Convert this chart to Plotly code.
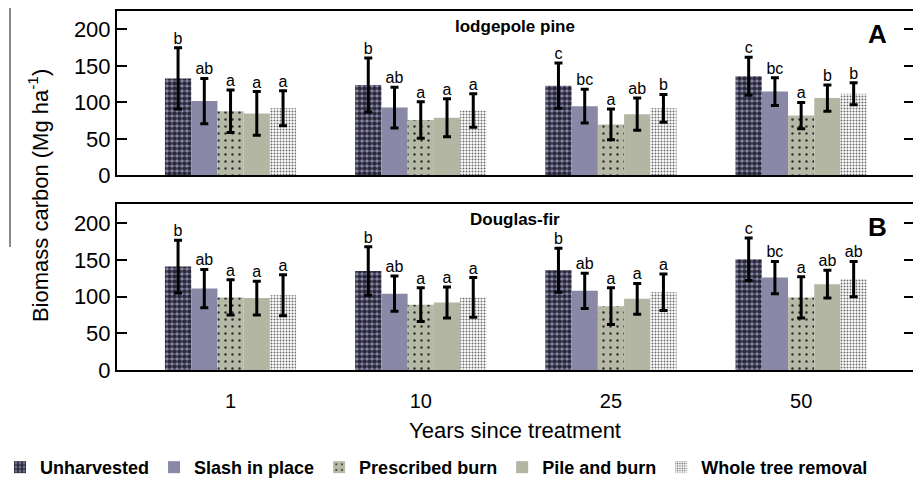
import plotly.graph_objects as go

# ---- data -------------------------------------------------------------
YEARS = ["1", "10", "25", "50"]
TREATMENTS = ["Unharvested", "Slash in place", "Prescribed burn",
              "Pile and burn", "Whole tree removal"]

# Lodgepole pine: mean biomass carbon (Mg/ha), error, significance letters
LP_UNHARVESTED = [133, 124, 123, 136]
LP_UNHARVESTED_ERR = [42, 37, 31, 26]
LP_UNHARVESTED_SIG = ["b", "b", "c", "c"]

LP_SLASH = [102, 93, 95, 115]
LP_SLASH_ERR = [31, 28, 23, 19]
LP_SLASH_SIG = ["ab", "ab", "bc", "bc"]

LP_PRESCRIBED = [88, 76, 70, 82]
LP_PRESCRIBED_ERR = [29, 25, 21, 18]
LP_PRESCRIBED_SIG = ["a", "a", "a", "a"]

LP_PILE = [85, 79, 84, 106]
LP_PILE_ERR = [30, 26, 22, 18]
LP_PILE_SIG = ["a", "a", "ab", "b"]

LP_WHOLE = [92, 89, 92, 112]
LP_WHOLE_ERR = [24, 23, 19, 15]
LP_WHOLE_SIG = ["a", "a", "b", "b"]

# Douglas-fir
DF_UNHARVESTED = [141, 135, 136, 151]
DF_UNHARVESTED_ERR = [36, 33, 30, 29]
DF_UNHARVESTED_SIG = ["b", "b", "b", "c"]

DF_SLASH = [111, 104, 108, 126]
DF_SLASH_ERR = [26, 24, 24, 22]
DF_SLASH_SIG = ["ab", "ab", "ab", "bc"]

DF_PRESCRIBED = [99, 89, 87, 99]
DF_PRESCRIBED_ERR = [24, 23, 25, 28]
DF_PRESCRIBED_SIG = ["a", "a", "a", "a"]

DF_PILE = [98, 92, 97, 117]
DF_PILE_ERR = [23, 21, 21, 19]
DF_PILE_SIG = ["a", "a", "a", "ab"]

DF_WHOLE = [102, 99, 106, 124]
DF_WHOLE_ERR = [28, 27, 25, 24]
DF_WHOLE_SIG = ["a", "a", "a", "ab"]

Y_TICKS = [0, 50, 100, 150, 200]

# ---- styling ----------------------------------------------------------
FONT = "Liberation Sans, Arial, sans-serif"

STYLES = {
    "Unharvested": dict(color="#8e8caa",
                        pattern=dict(shape=".", fgcolor="#2a2a3c", bgcolor="#8e8caa",
                                     size=5, solidity=0.7)),
    "Slash in place": dict(color="#8a88a7"),
    "Prescribed burn": dict(color="#b7b9a7",
                            pattern=dict(shape=".", fgcolor="#2f2f2f", bgcolor="#b7b9a7",
                                         size=7, solidity=0.1)),
    "Pile and burn": dict(color="#b4b6a4"),
    "Whole tree removal": dict(color="#ffffff",
                               pattern=dict(shape=".", fgcolor="#6a6a6a", bgcolor="#ffffff",
                                            size=3, solidity=0.33)),
}

# each panel: bar axes, plus the right-hand overlay axis carrying the letters
panels = [
    dict(x="x", y="y", y_right="y3",
         series=[(LP_UNHARVESTED, LP_UNHARVESTED_ERR, LP_UNHARVESTED_SIG),
                 (LP_SLASH, LP_SLASH_ERR, LP_SLASH_SIG),
                 (LP_PRESCRIBED, LP_PRESCRIBED_ERR, LP_PRESCRIBED_SIG),
                 (LP_PILE, LP_PILE_ERR, LP_PILE_SIG),
                 (LP_WHOLE, LP_WHOLE_ERR, LP_WHOLE_SIG)]),
    dict(x="x2", y="y2", y_right="y4",
         series=[(DF_UNHARVESTED, DF_UNHARVESTED_ERR, DF_UNHARVESTED_SIG),
                 (DF_SLASH, DF_SLASH_ERR, DF_SLASH_SIG),
                 (DF_PRESCRIBED, DF_PRESCRIBED_ERR, DF_PRESCRIBED_SIG),
                 (DF_PILE, DF_PILE_ERR, DF_PILE_SIG),
                 (DF_WHOLE, DF_WHOLE_ERR, DF_WHOLE_SIG)]),
]

BARGAP = 0.31
N = len(TREATMENTS)
BAR_W = (1 - BARGAP) / N
positions = list(range(len(YEARS)))

fig = go.Figure()

for p_i, panel in enumerate(panels):
    letter_x, letter_y, letter_txt = [], [], []
    for t_i, (name, (vals, errs, sig)) in enumerate(zip(TREATMENTS, panel["series"])):
        st = STYLES[name]
        marker = dict(color=st["color"], line=dict(width=0))
        if "pattern" in st:
            marker["pattern"] = dict(fillmode="replace", **st["pattern"])
        fig.add_trace(go.Bar(
            x=positions, y=vals, name=name, marker=marker,
            xaxis=panel["x"], yaxis=panel["y"],
            legendgroup=name, showlegend=(p_i == 0),
            error_y=dict(type="data", array=errs, visible=True,
                         color="black", thickness=3, width=4),
        ))
        offset = (t_i - (N - 1) / 2) * BAR_W
        for k, (v, e, s) in enumerate(zip(vals, errs, sig)):
            letter_x.append(positions[k] + offset)
            letter_y.append(v + e)
            letter_txt.append(s)
    # significance letters sit just above each error bar
    fig.add_trace(go.Scatter(
        x=letter_x, y=letter_y, text=letter_txt, mode="text",
        textposition="top center", cliponaxis=False,
        textfont=dict(family=FONT, size=16, color="black"),
        xaxis=panel["x"], yaxis=panel["y_right"], showlegend=False, hoverinfo="skip"))


def label(text, x, y, size, angle=0):
    return dict(x=x, y=y, xref="paper", yref="paper", text=text, textangle=angle,
                showarrow=False, xanchor="center", yanchor="middle",
                font=dict(family=FONT, size=size, color="black"))


# panel titles, panel tags, shared y title
annotations = [
    label("<b>lodgepole pine</b>", 0.5, 0.958, 17),
    label("<b>Douglas-fir</b>", 0.5, 0.418, 17),
    label("<b>A</b>", 0.956, 0.936, 26),
    label("<b>B</b>", 0.956, 0.399, 26),
    label("Biomass carbon (Mg ha<sup>-1</sup>)", -0.099, 0.485, 22, angle=-90),
]

XRANGE = [-0.597, 3.588]
RANGE_A = [0, 225.3]
RANGE_B = [0, 226.3]

axis_common = dict(showline=True, linecolor="black", linewidth=2, showgrid=False,
                   zeroline=False)

yaxis_common = dict(axis_common, tickvals=Y_TICKS, ticks="inside",
                    ticklen=10, tickwidth=2, tickcolor="black",
                    tickfont=dict(family=FONT, size=22, color="black"))

right_common = dict(showline=False, showgrid=False, zeroline=False, side="right",
                    tickvals=Y_TICKS, ticks="inside", ticklen=9, tickwidth=2,
                    tickcolor="black", showticklabels=False)

fig.update_layout(
    width=913, height=487,
    margin=dict(l=117, r=0, t=11, b=117),
    paper_bgcolor="white", plot_bgcolor="white",
    barmode="group", bargap=BARGAP, bargroupgap=0,
    font=dict(family=FONT, color="black"),
    xaxis=dict(axis_common, mirror=True, range=XRANGE, anchor="y",
               showticklabels=False, ticks=""),
    yaxis=dict(yaxis_common, domain=[0.5418, 1], range=RANGE_A, anchor="x"),
    xaxis2=dict(axis_common, mirror=True, range=XRANGE, anchor="y2",
                tickvals=positions, ticktext=YEARS, ticks="",
                ticklabelstandoff=12, automargin=False,
                tickfont=dict(family=FONT, size=20, color="black"),
                title=dict(text="Years since treatment", standoff=12,
                           font=dict(family=FONT, size=22, color="black"))),
    yaxis2=dict(yaxis_common, domain=[0, 0.4624], range=RANGE_B, anchor="x2"),
    yaxis3=dict(right_common, overlaying="y", anchor="x", range=RANGE_A),
    yaxis4=dict(right_common, overlaying="y2", anchor="x2", range=RANGE_B),
    legend=dict(orientation="h", x=-0.147, xanchor="left", y=-0.323, yanchor="bottom",
                font=dict(family=FONT, size=18, color="black", weight="bold"),
                itemwidth=30, tracegroupgap=0, bgcolor="rgba(0,0,0,0)"),
    annotations=annotations,
    shapes=[dict(type="line", xref="paper", yref="paper",
                 x0=-0.1344, x1=-0.1344, y0=1.0084, y1=0.3426,
                 line=dict(color="#8a8a8a", width=2))],
)

fig.write_html("out.html")
